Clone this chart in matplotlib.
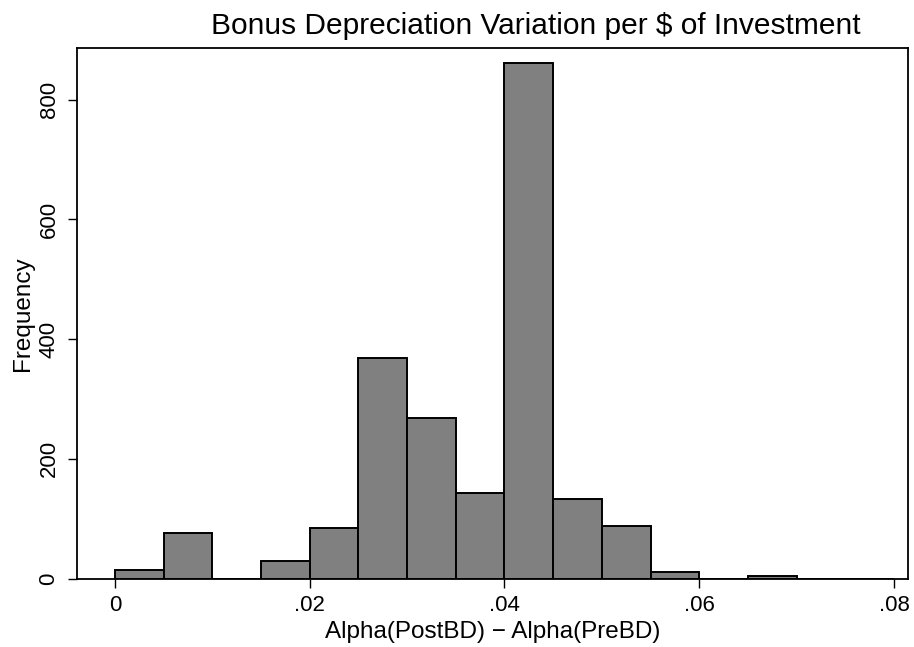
import matplotlib
matplotlib.use("Agg")
import matplotlib.pyplot as plt
import numpy as np

plt.rcParams['font.family'] = ['Liberation Sans', 'DejaVu Sans']

bin_edges = [0.0, 0.005, 0.01, 0.015, 0.02, 0.025, 0.03, 0.035, 0.04, 0.045, 0.05, 0.055, 0.06, 0.065, 0.07, 0.075, 0.08]
counts = [15, 77, 0, 30, 84, 368, 269, 143, 861, 133, 88, 11, 0, 5, 0, 0]
x_ticks = [0, 0.02, 0.04, 0.06, 0.08]
x_tick_labels = ['0', '.02', '.04', '.06', '.08']
y_ticks = [0, 200, 400, 600, 800]

fig = plt.figure(figsize=(9.14, 6.47), dpi=100)
ax = fig.add_axes([0.0842, 0.1056, 0.9092, 0.8202])

lefts = np.array(bin_edges[:-1])
widths = np.diff(bin_edges)
ax.bar(lefts, counts, width=widths, align='edge', color='#808080',
       edgecolor='black', linewidth=1.4)

ax.set_xlim(-0.0039, 0.08144)
ax.set_ylim(0, 886)
ax.set_xticks(x_ticks)
ax.set_xticklabels(x_tick_labels)
ax.set_yticks(y_ticks)
ax.set_yticklabels([str(v) for v in y_ticks], rotation=90, va='center')

for s in ax.spines.values():
    s.set_linewidth(1.3)
ax.tick_params(axis='both', direction='out', length=6.5, width=1.0, labelsize=16)
ax.tick_params(axis='x', pad=5)
ax.tick_params(axis='y', pad=6)

ax.set_xlabel('Alpha(PostBD) \u2212 Alpha(PreBD)', fontsize=17.5, labelpad=4)
ax.set_ylabel('Frequency', fontsize=17.5, labelpad=3)
ax.set_title('Bonus Depreciation Variation per $ of Investment', fontsize=21.5,
             pad=10, x=0.552)

fig.savefig('out.png', dpi=100)
